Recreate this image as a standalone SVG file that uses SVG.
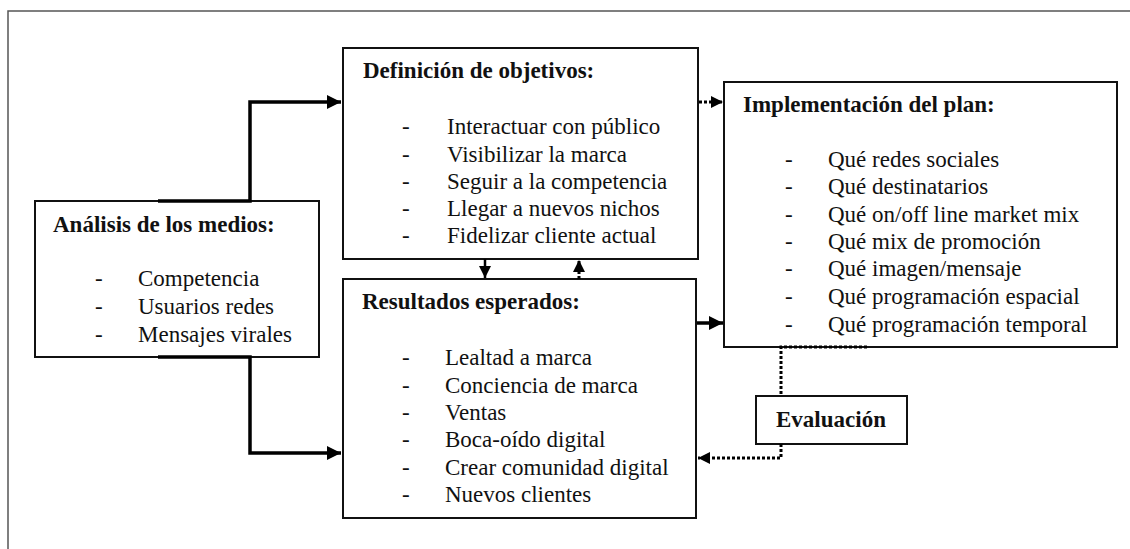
<svg xmlns="http://www.w3.org/2000/svg" width="1130" height="549" viewBox="0 0 1130 549">
<style>
.box{fill:#fff;stroke:#111;stroke-width:2}
.t{font-family:"Liberation Serif","Times New Roman",serif;font-weight:bold;font-size:23px;fill:#111}
.i{font-family:"Liberation Serif","Times New Roman",serif;font-size:23px;fill:#111}
.thick{fill:none;stroke:#000;stroke-width:3.5}
.thin{fill:none;stroke:#000;stroke-width:2.5}
.dot{fill:none;stroke:#000;stroke-width:3;stroke-dasharray:3 2}
</style>
<defs>
<marker id="ah" viewBox="0 0 10 10" refX="10" refY="5" markerWidth="4" markerHeight="4" orient="auto" markerUnits="strokeWidth"><path d="M0,0L10,5L0,10z" fill="#000"/></marker>
<marker id="ah2" viewBox="0 0 10 10" refX="10" refY="5" markerWidth="5" markerHeight="5" orient="auto" markerUnits="strokeWidth"><path d="M0,0L10,5L0,10z" fill="#000"/></marker>
</defs>
<rect width="1130" height="549" fill="#fff"/>
<path d="M8,549V11H1130" fill="none" stroke="#555" stroke-width="1.5"/>
<g id="analisis">
<rect class="box" x="35" y="201" width="284" height="156"/>
<text class="t" x="53" y="232">Análisis de los medios:</text>
<text class="i" x="95" y="286">-</text><text class="i" x="138" y="286">Competencia</text>
<text class="i" x="95" y="314">-</text><text class="i" x="138" y="314">Usuarios redes</text>
<text class="i" x="95" y="342">-</text><text class="i" x="138" y="342">Mensajes virales</text>
</g>
<g id="definicion">
<rect class="box" x="343" y="48" width="355" height="211"/>
<text class="t" x="363" y="78">Definición de objetivos:</text>
<text class="i" x="402" y="134">-</text><text class="i" x="447" y="134">Interactuar con público</text>
<text class="i" x="402" y="162">-</text><text class="i" x="447" y="162">Visibilizar la marca</text>
<text class="i" x="402" y="189">-</text><text class="i" x="447" y="189">Seguir a la competencia</text>
<text class="i" x="402" y="216">-</text><text class="i" x="447" y="216">Llegar a nuevos nichos</text>
<text class="i" x="402" y="243">-</text><text class="i" x="447" y="243">Fidelizar cliente actual</text>
</g>
<g id="resultados">
<rect class="box" x="343" y="279" width="353" height="239"/>
<text class="t" x="362" y="309">Resultados esperados:</text>
<text class="i" x="402" y="365">-</text><text class="i" x="445" y="365">Lealtad a marca</text>
<text class="i" x="402" y="393">-</text><text class="i" x="445" y="393">Conciencia de marca</text>
<text class="i" x="402" y="420">-</text><text class="i" x="445" y="420">Ventas</text>
<text class="i" x="402" y="447">-</text><text class="i" x="445" y="447">Boca-oído digital</text>
<text class="i" x="402" y="475">-</text><text class="i" x="445" y="475">Crear comunidad digital</text>
<text class="i" x="402" y="502">-</text><text class="i" x="445" y="502">Nuevos clientes</text>
</g>
<g id="implementacion">
<rect class="box" x="724" y="82" width="393" height="265"/>
<text class="t" x="743" y="112">Implementación del plan:</text>
<text class="i" x="785" y="167">-</text><text class="i" x="828" y="167">Qué redes sociales</text>
<text class="i" x="785" y="194">-</text><text class="i" x="828" y="194">Qué destinatarios</text>
<text class="i" x="785" y="222">-</text><text class="i" x="828" y="222">Qué on/off line market mix</text>
<text class="i" x="785" y="249">-</text><text class="i" x="828" y="249">Qué mix de promoción</text>
<text class="i" x="785" y="276">-</text><text class="i" x="828" y="276">Qué imagen/mensaje</text>
<text class="i" x="785" y="304">-</text><text class="i" x="828" y="304">Qué programación espacial</text>
<text class="i" x="785" y="332">-</text><text class="i" x="828" y="332">Qué programación temporal</text>
</g>
<g id="evaluacion">
<rect class="box" x="756" y="396" width="151" height="48"/>
<text class="t" x="831" y="427" text-anchor="middle">Evaluación</text>
</g>
<g id="connectors">
<path class="thick" d="M158,201H250V102H341" marker-end="url(#ah)"/>
<path class="thick" d="M158,357H250V453H341" marker-end="url(#ah)"/>
<path class="thin" d="M485,259V278" marker-end="url(#ah2)"/>
<path class="dot" d="M579,279V260" marker-end="url(#ah)"/>
<path class="dot" d="M699,102H723" marker-end="url(#ah)"/>
<path class="thick" d="M697,323H723" marker-end="url(#ah)"/>
<path class="dot" d="M867,347H781V396"/>
<path class="dot" d="M781,444V458H698" marker-end="url(#ah)"/>
</g>
</svg>
